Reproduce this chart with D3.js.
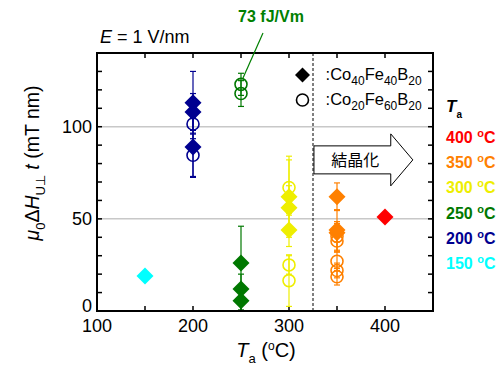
<!DOCTYPE html>
<html>
<head>
<meta charset="utf-8">
<script src="https://cdn.jsdelivr.net/npm/d3@7"></script>
<style>
  body { margin: 0; background: #fff; }
  text { font-family: "Liberation Sans", Arial, sans-serif; }
</style>
</head>
<body>
<script>
// annealing temperatures and colours
const tempLevels = [400, 350, 300, 250, 200, 150];
const tempColors = ["#ff0000", "#ff8000", "#eeee00", "#007800", "#000090", "#00ffff"];

// Co40Fe40B20 (filled diamonds)
const cfbATemp = [150, 200, 200, 200, 250, 250, 250, 300, 300, 300, 350, 350, 350, 400];
const cfbAVal  = [19, 113, 108, 89, 26, 12, 5.6, 62, 56, 44, 62, 44, 42.5, 51];
const cfbAErr  = [0, 17, 10, 16, 20, 8, 5, 22, 12, 9, 7.5, 11, 5, 1];

// Co20Fe60B20 (open circles)
const cfbBTemp = [200, 200, 250, 250, 300, 300, 300, 350, 350, 350, 350, 350];
const cfbBVal  = [101.5, 84.5, 123, 118, 67, 25, 16.5, 40.5, 38, 27, 22, 18.6];
const cfbBErr  = [8, 12, 6, 7, 15, 5, 14, 8, 6, 5, 4, 4.5];

const xTicks = [100, 200, 300, 400];
const yTicks = [0, 50, 100];

let margin = { top: 53, left: 97, right: 69, bottom: 56 };
let width = 502 - margin.left - margin.right;
let height = 367 - margin.top - margin.bottom;

const color = d3.scaleOrdinal().domain(tempLevels).range(tempColors);

const svg = d3.select("body").append("svg")
  .attr("width", 502).attr("height", 367);
const g = svg.append("g").attr("transform", `translate(${margin.left},${margin.top})`);

const x = d3.scaleLinear().domain([100, 450]).range([0, width]);
const y = d3.scaleLinear().domain([0, 140]).range([height, 0]);

// grid lines
g.selectAll(".grid").data([50, 100]).enter().append("line")
  .attr("x1", 0).attr("x2", width)
  .attr("y1", d => y(d)).attr("y2", d => y(d))
  .attr("stroke", "#c8c8c8").attr("stroke-width", 1.5);

// dashed line at crystallisation temperature
g.append("line")
  .attr("x1", x(325)).attr("x2", x(325)).attr("y1", 0).attr("y2", height)
  .attr("stroke", "#000").attr("stroke-width", 1).attr("stroke-dasharray", "3,2");

// arrow "結晶化"
const ax0 = x(326), ax1 = x(406), axTip = x(429);
const ay = y(82);
g.append("path")
  .attr("d", `M${ax0},${ay - 14} L${ax1},${ay - 14} L${ax1},${ay - 26} L${axTip},${ay} L${ax1},${ay + 26} L${ax1},${ay + 14} L${ax0},${ay + 14} Z`)
  .attr("fill", "#fff").attr("stroke", "#000").attr("stroke-width", 1);
g.append("text").attr("x", (ax0 + ax1) / 2 + 3).attr("y", ay + 6)
  .attr("text-anchor", "middle").style("font-size", "16px")
  .style("font-family", "'Noto Sans CJK JP', sans-serif").text("結晶化");

// ticks (inward) on all sides
const minorX = d3.range(100, 451, 50);
const minorY = d3.range(0, 141, 10);
g.selectAll(".tb").data(minorX).enter().append("line")
  .attr("x1", d => x(d)).attr("x2", d => x(d)).attr("y1", height).attr("y2", height - 5)
  .attr("stroke", "#000").attr("stroke-width", 1.5);
g.selectAll(".tt").data(minorX).enter().append("line")
  .attr("x1", d => x(d)).attr("x2", d => x(d)).attr("y1", 0).attr("y2", 5)
  .attr("stroke", "#000").attr("stroke-width", 1.5);
g.selectAll(".tl").data(minorY).enter().append("line")
  .attr("x1", 0).attr("x2", 5).attr("y1", d => y(d)).attr("y2", d => y(d))
  .attr("stroke", "#000").attr("stroke-width", 1.5);
g.selectAll(".tr").data(minorY).enter().append("line")
  .attr("x1", width).attr("x2", width - 5).attr("y1", d => y(d)).attr("y2", d => y(d))
  .attr("stroke", "#000").attr("stroke-width", 1.5);

// tick labels
g.selectAll(".xl").data(xTicks).enter().append("text")
  .attr("x", d => x(d)).attr("y", height + 21).attr("text-anchor", "middle")
  .style("font-size", "18px").text(d => d);
g.selectAll(".yl").data(yTicks).enter().append("text")
  .attr("x", -5).attr("y", d => y(d) + (d === 0 ? 1 : 6)).attr("text-anchor", "end")
  .style("font-size", "18px").text(d => d);

// error bars
function errorBars(temps, vals, errs) {
  const pts = temps.map((t, i) => ({ t: t, v: vals[i], e: errs[i] })).filter(d => d.e > 0);
  const eg = g.append("g");
  pts.forEach(d => {
    const c = color(d.t), cx = x(d.t);
    eg.append("line").attr("x1", cx).attr("x2", cx)
      .attr("y1", y(d.v - d.e)).attr("y2", y(d.v + d.e)).attr("stroke", c).attr("stroke-width", 1.2);
    [d.v - d.e, d.v + d.e].forEach(v => {
      eg.append("line").attr("x1", cx - 3).attr("x2", cx + 3)
        .attr("y1", y(v)).attr("y2", y(v)).attr("stroke", c).attr("stroke-width", 1.2);
    });
  });
}
errorBars(cfbBTemp, cfbBVal, cfbBErr);
errorBars(cfbATemp, cfbAVal, cfbAErr);

// open circles
g.selectAll(".circ").data(cfbBTemp.map((t, i) => ({ t: t, v: cfbBVal[i] })))
  .enter().append("circle")
  .attr("cx", d => x(d.t)).attr("cy", d => y(d.v)).attr("r", 6)
  .attr("fill", "none").attr("stroke", d => color(d.t)).attr("stroke-width", 1.6);

// filled diamonds
const diamond = "M0,-8.5 L8.5,0 L0,8.5 L-8.5,0 Z";
g.selectAll(".dia").data(cfbATemp.map((t, i) => ({ t: t, v: cfbAVal[i] })))
  .enter().append("path")
  .attr("d", diamond)
  .attr("transform", d => `translate(${x(d.t)},${y(d.v)})`)
  .attr("fill", d => color(d.t));

// frame
g.append("rect").attr("width", width).attr("height", height)
  .attr("fill", "none").attr("stroke", "#000").attr("stroke-width", 2);

// composition legend
const legX = x(313) + 1;
g.append("path").attr("d", "M0,-7.5 L7.5,0 L0,7.5 L-7.5,0 Z")
  .attr("transform", `translate(${legX},${y(128)})`).attr("fill", "#000");
g.append("circle").attr("cx", legX).attr("cy", y(114.5)).attr("r", 6)
  .attr("fill", "none").attr("stroke", "#000").attr("stroke-width", 1.6);

function compText(yy, a, b) {
  const t = g.append("text").attr("x", x(335) + 3).attr("y", yy).style("font-size", "16.5px");
  t.append("tspan").text(":Co");
  t.append("tspan").attr("dy", 5).style("font-size", "12px").text(a);
  t.append("tspan").attr("dy", -5).text("Fe");
  t.append("tspan").attr("dy", 5).style("font-size", "12px").text(b);
  t.append("tspan").attr("dy", -5).text("B");
  t.append("tspan").attr("dy", 5).style("font-size", "12px").text("20");
}
compText(y(128) + 5, "40", "40");
compText(y(114.5) + 5, "20", "60");

// E = 1 V/nm
const et = svg.append("text").attr("x", 100).attr("y", 43).style("font-size", "18px");
et.append("tspan").style("font-style", "italic").text("E");
et.append("tspan").text(" = 1 V/nm");

// 73 fJ/Vm annotation
svg.append("text").attr("x", 271).attr("y", 22).attr("text-anchor", "middle")
  .style("font-size", "16px").style("font-weight", "bold").attr("fill", "#008000").text("73 fJ/Vm");
svg.append("line").attr("x1", 263).attr("y1", 33).attr("x2", 243).attr("y2", 78)
  .attr("stroke", "#008000").attr("stroke-width", 1.2);

// temperature legend
const tl = svg.append("text").attr("x", 446).attr("y", 112)
  .style("font-size", "17px").style("font-weight", "bold");
tl.append("tspan").style("font-style", "italic").text("T");
tl.append("tspan").attr("dy", 6).style("font-size", "10px").text("a");

tempLevels.forEach((t, i) => {
  const tt = svg.append("text").attr("x", 446).attr("y", 143 + i * 25.2)
    .style("font-size", "16px").style("font-weight", "bold").attr("fill", tempColors[i]);
  tt.append("tspan").text(t + " ");
  tt.append("tspan").attr("dy", -6).style("font-size", "11px").text("o");
  tt.append("tspan").attr("dy", 6).text("C");
});

// x axis label
const xl = svg.append("text").attr("x", 266).attr("y", 357).attr("text-anchor", "middle")
  .style("font-size", "20px");
xl.append("tspan").style("font-style", "italic").text("T");
xl.append("tspan").attr("dy", 6).style("font-size", "13px").text("a");
xl.append("tspan").attr("dy", -6).text(" (");
xl.append("tspan").attr("dy", -7).style("font-size", "12px").text("o");
xl.append("tspan").attr("dy", 7).text("C)");

// y axis label
const yl = svg.append("text").attr("transform", "translate(39,163) rotate(-90)")
  .attr("text-anchor", "middle").style("font-size", "19.5px");
yl.append("tspan").style("font-style", "italic").text("μ");
yl.append("tspan").attr("dy", 6).style("font-size", "13px").text("0");
yl.append("tspan").attr("dy", -6).text("Δ");
yl.append("tspan").style("font-style", "italic").text("H");
yl.append("tspan").attr("dy", 6).style("font-size", "13px").text("U⊥");
yl.append("tspan").attr("dy", -6).text(" ");
yl.append("tspan").style("font-style", "italic").text("t");
yl.append("tspan").text(" (mT nm)");
</script>
</body>
</html>
